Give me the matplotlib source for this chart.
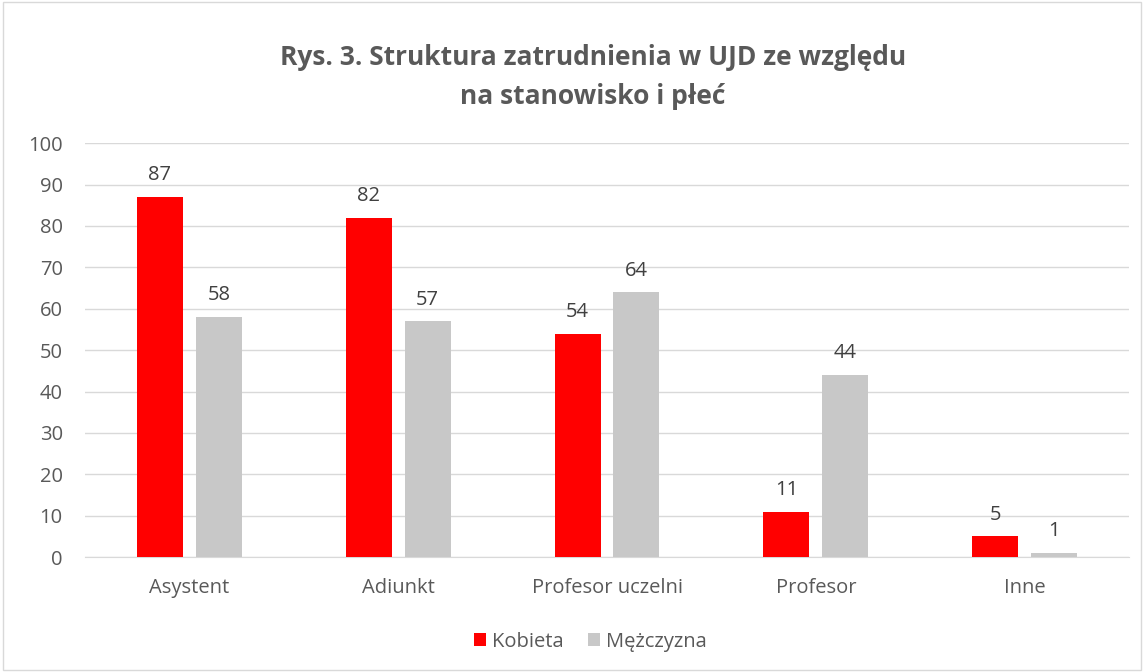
import numpy as np
import matplotlib.pyplot as plt
from matplotlib.patches import Rectangle

plt.rcParams['font.family'] = ['Open Sans', 'DejaVu Sans']

categories = ['Asystent', 'Adiunkt', 'Profesor uczelni', 'Profesor', 'Inne']
kobieta = [87, 82, 54, 11, 5]
mezczyzna = [58, 57, 64, 44, 1]
series_names = ['Kobieta', 'Mężczyzna']
colors = ['#FF0000', '#C8C8C8']

fig = plt.figure(figsize=(11.44, 6.72), dpi=100)
ax = fig.add_axes([0.0743, 0.171, 0.9126, 0.616])

x = np.arange(len(categories))
w = 0.22
off = 0.141
b1 = ax.bar(x - off, kobieta, w, color=colors[0], label=series_names[0], zorder=3)
b2 = ax.bar(x + off, mezczyzna, w, color=colors[1], label=series_names[1], zorder=3)

for bars in (b1, b2):
    for r in bars:
        ax.text(r.get_x() + r.get_width() / 2, r.get_height() + 2.8, str(int(r.get_height())),
                ha='center', va='bottom', fontsize=14.5, color='#404040')

ax.set_xlim(-0.5, len(categories) - 0.5)
ax.set_ylim(0, 100)
ax.set_yticks(range(0, 101, 10))
ax.set_xticks(x)
ax.set_xticklabels(categories)
ax.tick_params(axis='both', length=0, labelsize=14.5, colors='#595959')
ax.tick_params(axis='x', pad=15)
ax.tick_params(axis='y', pad=16)
ax.grid(axis='y', color='#D9D9D9', linewidth=1, zorder=0)
for s in ['top', 'right', 'left']:
    ax.spines[s].set_visible(False)
ax.spines['bottom'].set_color('#D9D9D9')

fig.text(0.518, 0.915, 'Rys. 3. Struktura zatrudnienia w UJD ze względu', ha='center', va='center',
         fontsize=19, fontweight='bold', color='#595959')
fig.text(0.518, 0.857, 'na stanowisko i płeć', ha='center', va='center',
         fontsize=19, fontweight='bold', color='#595959')

leg = fig.legend(loc='center', bbox_to_anchor=(0.516, 0.045), ncol=2, frameon=False,
                 fontsize=14.5, handlelength=0.6, handleheight=0.6, columnspacing=1.2,
                 handletextpad=0.3)
for t in leg.get_texts():
    t.set_color('#595959')

fig.patches.append(Rectangle((0.003, 0.003), 0.994, 0.994, transform=fig.transFigure,
                             fill=False, edgecolor='#D9D9D9', linewidth=1))

fig.savefig('out.png', dpi=100)
